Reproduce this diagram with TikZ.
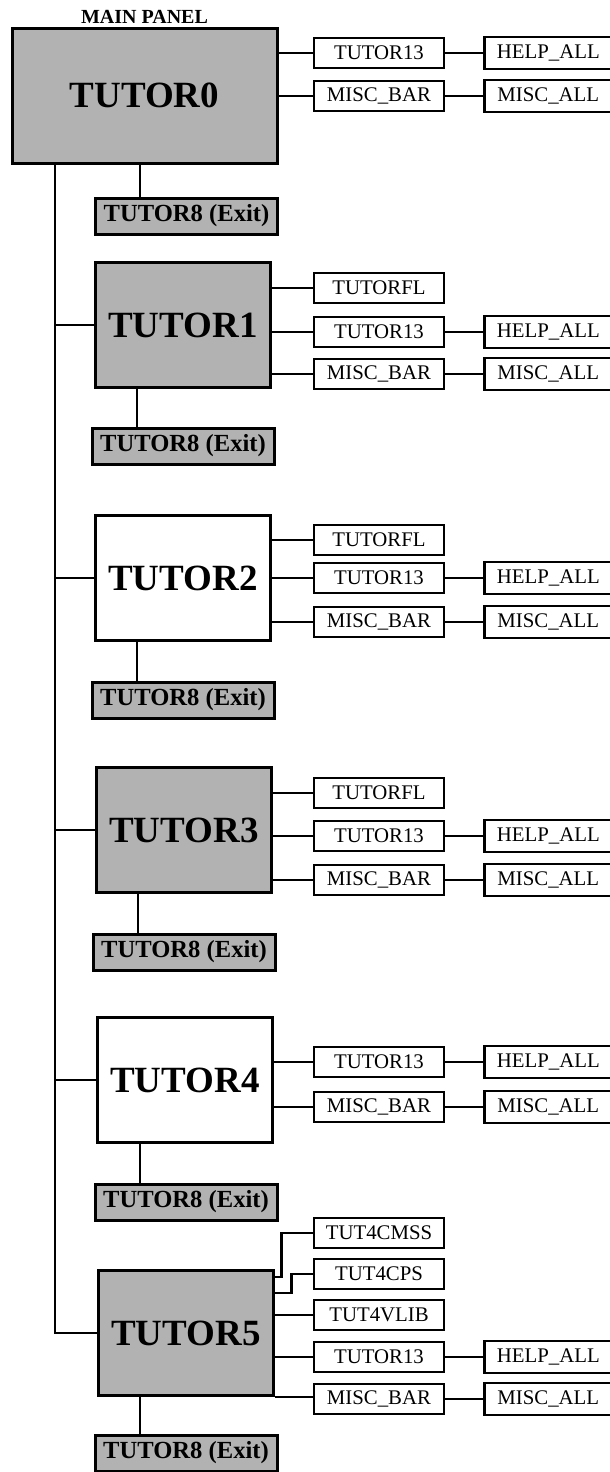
\documentclass[tikz,border=0pt]{standalone}
\usepackage{fontspec}
\setmainfont{Liberation Serif}
\usetikzlibrary{positioning,calc}

\begin{document}
\begin{tikzpicture}[x=0.5pt,y=-0.5pt,node distance=19pt,
  panel/.style={draw,line width=1.5pt,inner sep=0pt,minimum width=87.5pt,minimum height=62.5pt,font=\fontsize{18.5}{20}\selectfont\bfseries},
  halftone/.style={fill=black!30},
  exitbox/.style={draw,line width=1.5pt,halftone,inner sep=0pt,minimum width=91pt,minimum height=18pt,font=\fontsize{12.3}{14}\selectfont\bfseries},
  sub/.style={draw,line width=1.4pt,fill=white,inner sep=0pt,minimum width=65pt,minimum height=15pt,font=\fontsize{10.4}{12}\selectfont},
  lib/.style={sub,minimum width=63.5pt,minimum height=16pt},
  link/.style={line width=1.2pt}]
\tikzset{every edge/.append style={line width=1.2pt}}
\useasboundingbox (0,0) rectangle (610,1472);

% main panels
\node[panel,halftone,minimum width=132.5pt,minimum height=67.5pt] (t0) at (144.5,95.5) {TUTOR0};
\node[inner sep=0pt,above=1.5pt of t0,font=\fontsize{10}{12}\selectfont\bfseries] (mainlbl) {MAIN PANEL};
\node[panel,halftone]	(t1)	at (183,325)	{TUTOR1};
\node[panel]		(t2)	at (183,578)	{TUTOR2};
\node[panel,halftone]	(t3)	at (184,830)	{TUTOR3};
\node[panel]		(t4)	at (185,1080)	{TUTOR4};
\node[panel,halftone]	(t5)	at (186,1333)	{TUTOR5};

% exit boxes
\node[exitbox]	(e0)	at (186.5,216)	{TUTOR8 (Exit)};
\node[exitbox]	(e1)	at (183,446)	{TUTOR8 (Exit)};
\node[exitbox]	(e2)	at (183,700)	{TUTOR8 (Exit)};
\node[exitbox]	(e3)	at (184,952)	{TUTOR8 (Exit)};
\node[exitbox]	(e4)	at (186,1202)	{TUTOR8 (Exit)};
\node[exitbox]	(e5)	at (186,1453)	{TUTOR8 (Exit)};

% sub panels
\node[sub]	(t0h)	at (379,53)	{TUTOR13};
\node[sub]	(t0m)	at (379,96)	{MISC\_BAR};
\node[lib]	(t0ha)	[right=of t0h]	{HELP\_ALL};
\node[lib]	(t0ma)	[right=of t0m]	{MISC\_ALL};

\node[sub]	(t1fl)	at (379,288)	{TUTORFL};
\node[sub]	(t1h)	at (379,332)	{TUTOR13};
\node[sub]	(t1m)	at (379,374)	{MISC\_BAR};
\node[lib]	(t1ha)	[right=of t1h]	{HELP\_ALL};
\node[lib]	(t1ma)	[right=of t1m]	{MISC\_ALL};

\node[sub]	(t2fl)	at (379,540)	{TUTORFL};
\node[sub]	(t2h)	at (379,578)	{TUTOR13};
\node[sub]	(t2m)	at (379,622)	{MISC\_BAR};
\node[lib]	(t2ha)	[right=of t2h]	{HELP\_ALL};
\node[lib]	(t2ma)	[right=of t2m]	{MISC\_ALL};

\node[sub]	(t3fl)	at (379,793)	{TUTORFL};
\node[sub]	(t3h)	at (379,836)	{TUTOR13};
\node[sub]	(t3m)	at (379,880)	{MISC\_BAR};
\node[lib]	(t3ha)	[right=of t3h]	{HELP\_ALL};
\node[lib]	(t3ma)	[right=of t3m]	{MISC\_ALL};

\node[sub]	(t4h)	at (379,1062)	{TUTOR13};
\node[sub]	(t4m)	at (379,1107)	{MISC\_BAR};
\node[lib]	(t4ha)	[right=of t4h]	{HELP\_ALL};
\node[lib]	(t4ma)	[right=of t4m]	{MISC\_ALL};

\node[sub]	(t5c)	at (379,1233)	{TUT4CMSS};
\node[sub]	(t5p)	at (379,1274)	{TUT4CPS};
\node[sub]	(t5v)	at (379,1315)	{TUT4VLIB};
\node[sub]	(t5h)	at (379,1357)	{TUTOR13};
\node[sub]	(t5m)	at (379,1399)	{MISC\_BAR};
\node[lib]	(t5ha)	[right=of t5h]	{HELP\_ALL};
\node[lib]	(t5ma)	[right=of t5m]	{MISC\_ALL};

% trunk
\coordinate (trunk) at (55,0);
\draw[link] (t0.south -| trunk) |- (t5.west);
\path	(t1.west) edge (t1.west -| trunk)
	(t2.west) edge (t2.west -| trunk)
	(t3.west) edge (t3.west -| trunk)
	(t4.west) edge (t4.west -| trunk);

% exits
\draw[link] ($(e0.north west)!.25!(e0.north east)$) coordinate (x0) -- (x0 |- t0.south);
\draw[link] ($(e1.north west)!.25!(e1.north east)$) coordinate (x1) -- (x1 |- t1.south);
\draw[link] ($(e2.north west)!.25!(e2.north east)$) coordinate (x2) -- (x2 |- t2.south);
\draw[link] ($(e3.north west)!.25!(e3.north east)$) coordinate (x3) -- (x3 |- t3.south);
\draw[link] ($(e4.north west)!.25!(e4.north east)$) coordinate (x4) -- (x4 |- t4.south);
\draw[link] ($(e5.north west)!.25!(e5.north east)$) coordinate (x5) -- (x5 |- t5.south);

% side links
\path	(t0h)	edge	(t0h -| t0.east)
		edge	(t0ha)
	(t0m)	edge	(t0m -| t0.east)
		edge	(t0ma)

	(t1fl)	edge	(t1fl -| t1.east)
	(t1h)	edge	(t1h -| t1.east)
		edge	(t1ha)
	(t1m)	edge	(t1m -| t1.east)
		edge	(t1ma)

	(t2fl)	edge	(t2fl -| t2.east)
	(t2h)	edge	(t2h -| t2.east)
		edge	(t2ha)
	(t2m)	edge	(t2m -| t2.east)
		edge	(t2ma)

	(t3fl)	edge	(t3fl -| t3.east)
	(t3h)	edge	(t3h -| t3.east)
		edge	(t3ha)
	(t3m)	edge	(t3m -| t3.east)
		edge	(t3ma)

	(t4h)	edge	(t4h -| t4.east)
		edge	(t4ha)
	(t4m)	edge	(t4m -| t4.east)
		edge	(t4ma)

	(t5v)	edge	(t5v -| t5.east)
	(t5h)	edge	(t5h -| t5.east)
		edge	(t5ha)
	(t5m)	edge	(t5ma)
	(t5.south east)	edge	(t5.south east -| t5m.west);

% elbows of TUTOR5
\draw[link] (t5c.west) -- ++(-31,0) |- ($(t5.north east)+(0,8)$);
\draw[link] (t5p.west) -- ++(-21,0) |- ($(t5.north east)+(0,24)$);
\end{tikzpicture}
\end{document}
